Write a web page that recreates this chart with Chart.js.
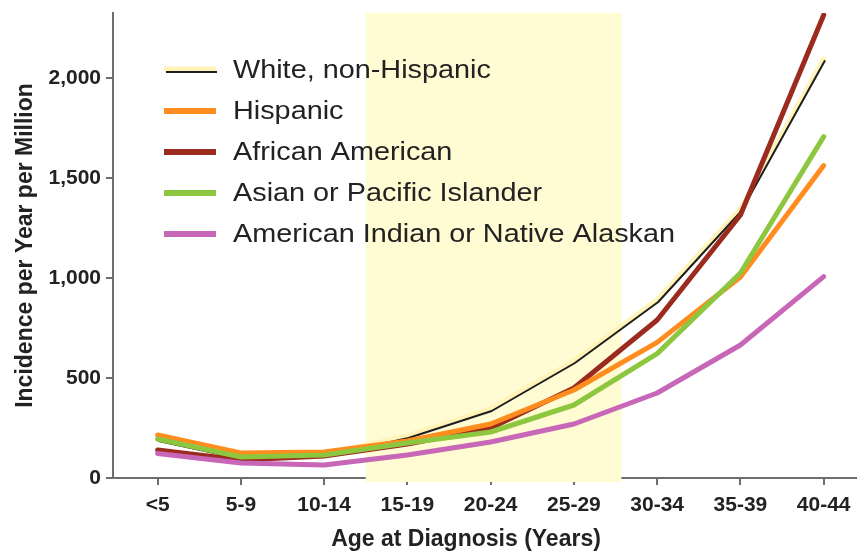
<!DOCTYPE html>
<html>
<head>
<meta charset="utf-8">
<script src="https://cdn.jsdelivr.net/npm/chart.js@4/dist/chart.umd.min.js"></script>
<style>
  html, body { margin: 0; padding: 0; background: #ffffff; }
  #wrap { width: 857px; height: 555px; position: relative; }
</style>
</head>
<body>
<div id="wrap"><canvas id="chart"></canvas></div>
<script>
// Age groups at diagnosis
const ageGroups = ['<5', '5-9', '10-14', '15-19', '20-24', '25-29', '30-34', '35-39', '40-44'];

// Incidence per year per million, by race / ethnicity
const whiteNonHispanic = [195, 105, 118, 210, 345, 585, 890, 1345, 2095];
const hispanic         = [215, 125, 130, 185, 270, 440, 678, 1005, 1562];
const africanAmerican  = [140, 90, 110, 170, 250, 450, 790, 1315, 2315];
const asianPacific     = [195, 105, 115, 175, 230, 365, 622, 1025, 1707];
const amIndianAlaskan  = [123, 75, 65, 115, 180, 270, 425, 665, 1007];

const seriesLabels = ['White, non-Hispanic', 'Hispanic', 'African American',
                      'Asian or Pacific Islander', 'American Indian or Native Alaskan'];

// Y axis tick values
const yTickValues = [0, 500, 1000, 1500, 2000];

// Shaded age span (in age-group index units)
const shadedRange = [2.5, 5.57];

const COLORS = {
  cream: '#fff3b8',
  black: '#1e1e1e',
  orange: '#ff8c1e',
  darkRed: '#9a2b1e',
  green: '#8dc63f',
  pink: '#c866b8',
  band: '#fffbd2',
  axis: '#6e6e6e',
  text: '#222222'
};

const toPoints = vals => vals.map((v, i) => ({ x: i, y: v }));

const FONT = "'Liberation Sans', Arial, Helvetica, sans-serif";

// Pale band behind the lines
const bandPlugin = {
  id: 'band',
  beforeDatasetsDraw(chart) {
    const { ctx, chartArea, scales } = chart;
    const x0 = scales.x.getPixelForValue(shadedRange[0]);
    const x1 = scales.x.getPixelForValue(shadedRange[1]);
    ctx.save();
    ctx.fillStyle = COLORS.band;
    ctx.fillRect(x0, chartArea.top, x1 - x0, chartArea.bottom - chartArea.top + 4);
    ctx.restore();
  }
};

// The thin dark line of the white, non-Hispanic series sits on the lower edge of its cream band
const shiftPlugin = {
  id: 'shift',
  beforeDatasetDraw(chart, args) {
    if (chart.data.datasets[args.index].shifted) {
      chart.ctx.save();
      chart.ctx.translate(1, 2);
    }
  },
  afterDatasetDraw(chart, args) {
    if (chart.data.datasets[args.index].shifted) {
      chart.ctx.restore();
    }
  }
};

// Legend drawn inside the plot area
const legendPlugin = {
  id: 'insideLegend',
  afterDraw(chart) {
    const { ctx } = chart;
    const rows = [
      { label: seriesLabels[0], colors: [COLORS.cream, COLORS.black] },
      { label: seriesLabels[1], colors: [COLORS.orange] },
      { label: seriesLabels[2], colors: [COLORS.darkRed] },
      { label: seriesLabels[3], colors: [COLORS.green] },
      { label: seriesLabels[4], colors: [COLORS.pink] }
    ];
    const sx0 = 164, sx1 = 216, tx = 233, y0 = 70, dy = 41;
    ctx.save();
    rows.forEach((r, i) => {
      const y = y0 + i * dy;
      if (r.colors.length === 2) {
        ctx.strokeStyle = r.colors[0];
        ctx.lineWidth = 5;
        ctx.beginPath(); ctx.moveTo(sx0, y - 1); ctx.lineTo(sx1, y - 1); ctx.stroke();
        ctx.strokeStyle = r.colors[1];
        ctx.lineWidth = 2;
        ctx.beginPath(); ctx.moveTo(sx0 + 2, y + 2); ctx.lineTo(sx1 + 1, y + 2); ctx.stroke();
      } else {
        ctx.strokeStyle = r.colors[0];
        ctx.lineWidth = 6;
        ctx.beginPath(); ctx.moveTo(sx0, y); ctx.lineTo(sx1, y); ctx.stroke();
      }
      ctx.fillStyle = COLORS.text;
      ctx.font = '25.5px ' + FONT;
      ctx.textBaseline = 'middle';
      ctx.textAlign = 'left';
      ctx.save();
      ctx.translate(tx, y + 1);
      ctx.scale(1.13, 1);
      ctx.fillText(r.label, 0, 0);
      ctx.restore();
    });
    ctx.restore();
  }
};

// X axis title
const xTitlePlugin = {
  id: 'xTitle',
  afterDraw(chart) {
    const { ctx, chartArea } = chart;
    ctx.save();
    ctx.fillStyle = COLORS.text;
    ctx.font = 'bold 23px ' + FONT;
    ctx.textAlign = 'center';
    ctx.textBaseline = 'middle';
    ctx.fillText('Age at Diagnosis (Years)', chartArea.left + 353, chartArea.bottom + 62);
    ctx.restore();
  }
};

const lineBase = {
  pointRadius: 0,
  pointHoverRadius: 0,
  tension: 0,
  fill: false,
  borderCapStyle: 'round',
  borderJoinStyle: 'round'
};

new Chart(document.getElementById('chart'), {
  type: 'line',
  data: {
    datasets: [
      { ...lineBase, label: seriesLabels[4], data: toPoints(amIndianAlaskan), borderColor: COLORS.pink, borderWidth: 5, order: 1 },
      { ...lineBase, label: seriesLabels[3], data: toPoints(asianPacific), borderColor: COLORS.green, borderWidth: 5, order: 2 },
      { ...lineBase, label: seriesLabels[1], data: toPoints(hispanic), borderColor: COLORS.orange, borderWidth: 5, order: 3 },
      { ...lineBase, label: seriesLabels[2], data: toPoints(africanAmerican), borderColor: COLORS.darkRed, borderWidth: 5, order: 4 },
      { ...lineBase, label: seriesLabels[0], data: toPoints(whiteNonHispanic), borderColor: COLORS.black, borderWidth: 2, order: 5, shifted: true },
      { ...lineBase, label: seriesLabels[0], data: toPoints(whiteNonHispanic), borderColor: COLORS.cream, borderWidth: 5, order: 6 }
    ]
  },
  options: {
    responsive: true,
    maintainAspectRatio: false,
    animation: false,
    events: [],
    layout: { padding: { top: 13, right: 0, bottom: 0, left: 0 } },
    plugins: {
      legend: { display: false },
      tooltip: { enabled: false }
    },
    scales: {
      x: {
        type: 'linear',
        min: -0.536,
        max: 8.4,
        afterBuildTicks(scale) {
          scale.ticks = ageGroups.map((_, i) => ({ value: i }));
        },
        afterFit(scale) {
          scale.height = 77;
          scale.paddingLeft = 0;
          scale.paddingRight = 0;
        },
        border: { display: true, color: COLORS.axis, width: 2 },
        grid: { drawOnChartArea: false, drawTicks: true, tickLength: 7, color: COLORS.axis, lineWidth: 2 },
        ticks: {
          autoSkip: false,
          maxRotation: 0,
          padding: 8,
          color: COLORS.text,
          font: { family: FONT, size: 21, weight: 'bold' },
          callback: v => ageGroups[v]
        }
      },
      y: {
        type: 'linear',
        min: 0,
        max: 2325,
        afterBuildTicks(scale) {
          scale.ticks = yTickValues.map(v => ({ value: v }));
        },
        afterFit(scale) {
          scale.width = 113;
          scale.paddingTop = 0;
          scale.paddingBottom = 0;
        },
        border: { display: true, color: COLORS.axis, width: 2 },
        grid: { drawOnChartArea: false, drawTicks: true, tickLength: 7, color: COLORS.axis, lineWidth: 2 },
        ticks: {
          padding: 5,
          color: COLORS.text,
          font: { family: FONT, size: 21, weight: 'bold' },
          callback: v => v.toLocaleString('en-US')
        },
        title: {
          display: true,
          text: 'Incidence per Year per Million',
          color: COLORS.text,
          font: { family: FONT, size: 23, weight: 'bold' },
          padding: { top: 12, bottom: 0 }
        }
      }
    }
  },
  plugins: [bandPlugin, shiftPlugin, legendPlugin, xTitlePlugin]
});
</script>
</body>
</html>
